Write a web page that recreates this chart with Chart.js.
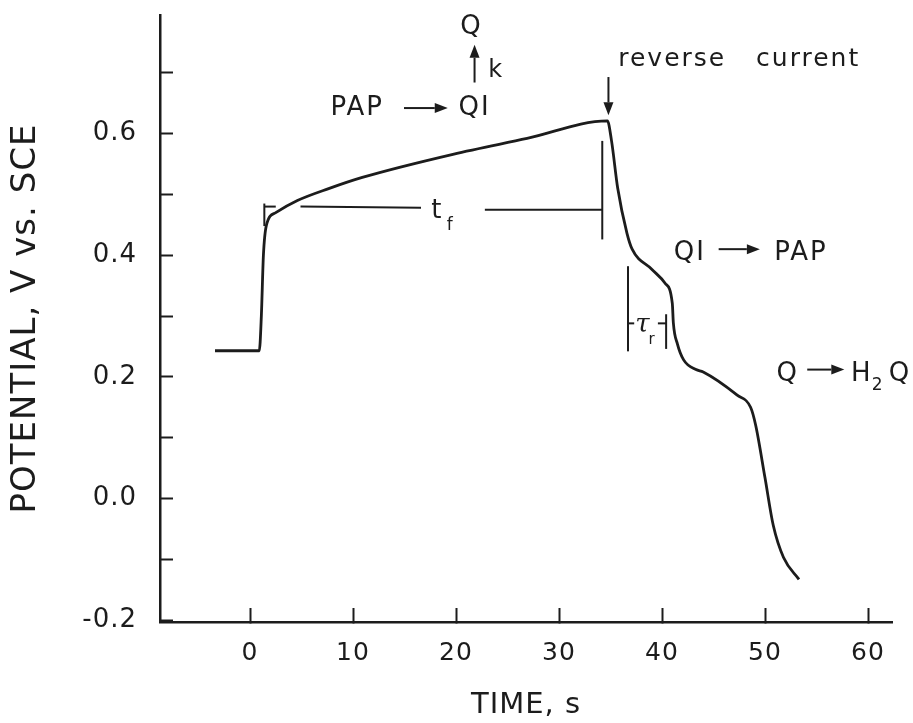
<!DOCTYPE html>
<html>
<head>
<meta charset="utf-8">
<script src="https://cdn.jsdelivr.net/npm/chart.js@4.4.1/dist/chart.umd.min.js"></script>
<style>
  html, body { margin: 0; padding: 0; background: #fff; }
  #wrap { width: 913px; height: 723px; position: relative; }
</style>
</head>
<body>
<div id="wrap"><canvas id="potentialChart"></canvas></div>
<script>
// chronopotentiogram
const timeS = [-3.4, 0.9, 1.1, 1.3, 1.6, 2.5, 4.6, 7.7, 10.9, 19.7, 26.9, 34.7, 35.1, 35.7, 36.6, 37.1, 39.0, 40.3, 41.0, 41.1, 41.5, 42.1, 43.3, 44.0, 47.3, 48.6, 49.1, 50.0, 50.8, 51.8, 53.3];
const potentialV = [0.243, 0.243, 0.30, 0.40, 0.45, 0.47, 0.49, 0.51, 0.528, 0.566, 0.592, 0.621, 0.588, 0.51, 0.436, 0.41, 0.377, 0.354, 0.321, 0.289, 0.254, 0.228, 0.212, 0.208, 0.170, 0.150, 0.12, 0.034, -0.044, -0.097, -0.133];

const xTickValues = [0, 10, 20, 30, 40, 50, 60];
const xTickLabels = ['0', '10', '20', '30', '40', '50', '60'];
const yTickValues = [-0.2, -0.1, 0, 0.1, 0.2, 0.3, 0.4, 0.5, 0.6, 0.7];
const yTickLabels = ['-0.2', '', '0.0', '', '0.2', '', '0.4', '', '0.6', ''];

// annotation text, placed in data units (x = s, y = V)
const notes = [
    { text: 'Q', x: 21.4, y: 0.763, size: 26 },
    { text: 'k', x: 23.8, y: 0.693, size: 24 },
    { text: 'PAP', x: 10.4, y: 0.630, size: 26 },
    { text: 'QI', x: 21.8, y: 0.630, size: 26 },
    { text: 'reverse   current', x: 47.5, y: 0.711, size: 25 },
    { text: 't', x: 18.1, y: 0.461, size: 26 },
    { text: 'f', x: 19.4, y: 0.441, size: 17 },
    { text: 'QI', x: 42.7, y: 0.393, size: 26 },
    { text: 'PAP', x: 53.5, y: 0.393, size: 26 },
    { text: 'τ', x: 38.1, y: 0.274, size: 26, serif: true },
    { text: 'r', x: 39.0, y: 0.254, size: 15 },
    { text: 'Q', x: 52.1, y: 0.193, size: 26 },
    { text: 'H', x: 59.3, y: 0.193, size: 26 },
    { text: '2', x: 60.9, y: 0.178, size: 17 },
    { text: 'Q', x: 63.0, y: 0.193, size: 26 }
];
const arrows = [
    { x1: 21.8, y1: 0.684, x2: 21.8, y2: 0.746 },
    { x1: 14.95, y1: 0.642, x2: 19.2, y2: 0.642 },
    { x1: 34.8, y1: 0.693, x2: 34.8, y2: 0.630 },
    { x1: 45.5, y1: 0.41, x2: 49.5, y2: 0.41 },
    { x1: 54.1, y1: 0.212, x2: 57.7, y2: 0.212 }
];
const brackets = [
    { x1: 1.39, y1: 0.485, x2: 1.39, y2: 0.448 },
    { x1: 1.39, y1: 0.480, x2: 2.5, y2: 0.480 },
    { x1: 4.9, y1: 0.480, x2: 16.6, y2: 0.478 },
    { x1: 22.8, y1: 0.475, x2: 34.2, y2: 0.475 },
    { x1: 34.2, y1: 0.588, x2: 34.2, y2: 0.426 },
    { x1: 36.7, y1: 0.382, x2: 36.7, y2: 0.242 },
    { x1: 36.7, y1: 0.288, x2: 37.3, y2: 0.288 },
    { x1: 39.6, y1: 0.288, x2: 40.4, y2: 0.288 },
    { x1: 40.4, y1: 0.303, x2: 40.4, y2: 0.246 }
];

const ink = '#1c1c1c';
const fontFamily = "'DejaVu Sans', sans-serif";

const paper = {
    id: 'paper',
    beforeDraw(chart) {
        const c = chart.ctx;
        c.save();
        c.fillStyle = '#fff';
        c.fillRect(0, 0, chart.width, chart.height);
        c.restore();
        c.letterSpacing = '1px';
    }
};

const labelsPlugin = {
    id: 'labelsPlugin',
    afterDraw(chart) {
        const c = chart.ctx;
        const xs = chart.scales.x, ys = chart.scales.y;
        const px = v => xs.getPixelForValue(v);
        const py = v => ys.getPixelForValue(v);
        c.save();
        c.strokeStyle = ink;
        c.fillStyle = ink;
        c.lineWidth = 2;
        c.lineCap = 'butt';
        brackets.forEach(b => {
            c.beginPath();
            c.moveTo(px(b.x1), py(b.y1));
            c.lineTo(px(b.x2), py(b.y2));
            c.stroke();
        });
        arrows.forEach(a => {
            const x1 = px(a.x1), y1 = py(a.y1), x2 = px(a.x2), y2 = py(a.y2);
            const ang = Math.atan2(y2 - y1, x2 - x1);
            const len = 13, half = 5;
            const bx = x2 - len * Math.cos(ang), by = y2 - len * Math.sin(ang);
            c.beginPath();
            c.moveTo(x1, y1);
            c.lineTo(bx, by);
            c.stroke();
            c.beginPath();
            c.moveTo(x2, y2);
            c.lineTo(bx + half * Math.sin(ang), by - half * Math.cos(ang));
            c.lineTo(bx - half * Math.sin(ang), by + half * Math.cos(ang));
            c.closePath();
            c.fill();
        });
        c.textAlign = 'center';
        c.textBaseline = 'alphabetic';
        notes.forEach(n => {
            c.letterSpacing = n.text.length > 1 ? '2px' : '0px';
            c.font = n.serif ? `italic ${n.size}px 'DejaVu Serif', serif` : `${n.size}px ${fontFamily}`;
            c.fillText(n.text, px(n.x), py(n.y));
        });
        c.restore();
    }
};

// keep the plot box where the scan has it
function noScalePadding(s) {
    s.paddingTop = 0;
    s.paddingBottom = 0;
    s.paddingLeft = 0;
    s.paddingRight = 0;
}

const ctx = document.getElementById('potentialChart').getContext('2d');

const chart = new Chart(ctx, {
    type: 'line',
    data: {
        datasets: [{
            data: timeS.map((t, i) => ({ x: t, y: potentialV[i] })),
            borderColor: ink,
            borderWidth: 2.8,
            pointRadius: 0,
            fill: false,
            cubicInterpolationMode: 'monotone'
        }]
    },
    options: {
        responsive: true,
        maintainAspectRatio: false,
        animation: false,
        layout: { padding: { top: 15, right: 21, left: 0, bottom: 0 } },
        plugins: {
            legend: { display: false },
            tooltip: { enabled: false }
        },
        scales: {
            x: {
                type: 'linear',
                min: -8.74,
                max: 62.33,
                afterBuildTicks: s => { s.ticks = xTickValues.map(v => ({ value: v })); },
                afterFit: s => { s.height = 101; noScalePadding(s); },
                border: { color: ink, width: 2.5 },
                grid: { drawOnChartArea: false, drawTicks: true, tickLength: -14, tickWidth: 2, tickColor: ink },
                ticks: {
                    color: ink,
                    padding: 30,
                    maxRotation: 0,
                    font: { family: fontFamily, size: 25 },
                    callback: (v, i) => xTickLabels[i]
                },
                title: {
                    display: true,
                    text: 'TIME, s',
                    color: ink,
                    font: { family: fontFamily, size: 29 },
                    padding: { top: 0, bottom: 0 }
                }
            },
            y: {
                type: 'linear',
                min: -0.203,
                max: 0.795,
                afterBuildTicks: s => { s.ticks = yTickValues.map(v => ({ value: v })); },
                afterFit: s => { s.width = 160; noScalePadding(s); },
                border: { color: ink, width: 2.5 },
                grid: { drawOnChartArea: false, drawTicks: true, tickLength: -13, tickWidth: 2, tickColor: ink },
                ticks: {
                    color: ink,
                    padding: 36,
                    font: { family: fontFamily, size: 26 },
                    callback: (v, i) => yTickLabels[i]
                },
                title: {
                    display: true,
                    text: 'POTENTIAL, V vs. SCE',
                    color: ink,
                    font: { family: fontFamily, size: 34 },
                    padding: { top: 6, bottom: 0 }
                }
            }
        }
    },
    plugins: [paper, labelsPlugin]
});
</script>
</body>
</html>
